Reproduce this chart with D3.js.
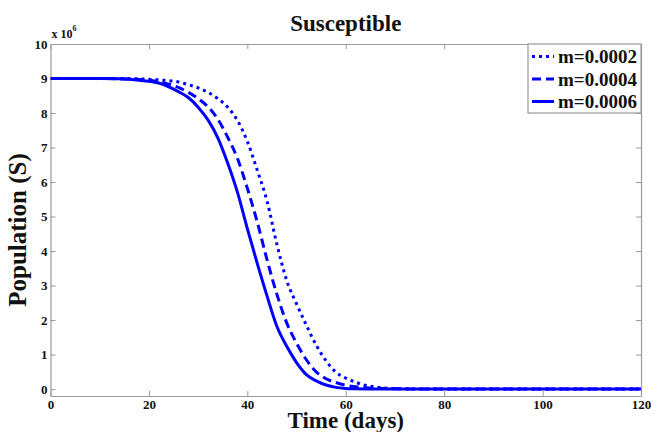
<!DOCTYPE html>
<html>
<head>
<meta charset="utf-8">
<script src="https://cdn.jsdelivr.net/npm/d3@7"></script>
<style>
  html, body { margin: 0; padding: 0; background: #fff; }
  svg { display: block; font-family: "Liberation Serif", "Times New Roman", serif; }
</style>
</head>
<body>
<svg id="chart" width="651" height="432"></svg>
<script>
// Susceptible population over time (units of 10^6) for three values of m
const days = [0, 10, 14, 18, 22, 26, 28, 30, 32, 34, 36, 38, 40, 42, 44, 46, 48, 50, 52, 54, 56, 58, 60, 62, 64, 66, 68, 70, 75, 80, 90, 100, 110, 120];

const sM0002 = [9.00, 9.00, 9.00, 8.99, 8.96, 8.90, 8.82, 8.73, 8.60, 8.42, 8.17, 7.78, 7.18, 6.35, 5.45, 4.20, 3.15, 2.47, 1.85, 1.27, 0.82, 0.49, 0.32, 0.20, 0.11, 0.06, 0.03, 0.015, 0.003, 0, 0, 0, 0, 0];
const sM0004 = [9.00, 9.00, 8.99, 8.97, 8.91, 8.74, 8.60, 8.42, 8.18, 7.82, 7.30, 6.68, 5.82, 4.85, 3.75, 2.75, 1.92, 1.33, 0.85, 0.50, 0.30, 0.19, 0.11, 0.07, 0.04, 0.025, 0.015, 0.01, 0.002, 0, 0, 0, 0, 0];
const sM0006 = [9.00, 9.00, 8.99, 8.95, 8.87, 8.62, 8.45, 8.17, 7.80, 7.28, 6.55, 5.70, 4.65, 3.65, 2.70, 1.82, 1.24, 0.77, 0.42, 0.24, 0.12, 0.05, 0.02, 0.01, 0.005, 0.003, 0.001, 0, 0, 0, 0, 0, 0, 0];

const seriesNames = ["m=0.0002", "m=0.0004", "m=0.0006"];
const seriesValues = [sM0002, sM0004, sM0006];
const seriesDash = ["3,4", "9,5", null];

const xTicks = [0, 20, 40, 60, 80, 100, 120];
const yTicks = [0, 1, 2, 3, 4, 5, 6, 7, 8, 9, 10];

const svg = d3.select("#chart");
const box = { left: 50.5, right: 641, top: 44, bottom: 396 };
const blue = "#0000ff";
const axisGray = "#9a9a9a";
const serif = "'Liberation Serif', 'Times New Roman', serif";

const x = d3.scaleLinear().domain([0, 120]).range([box.left, box.right]);
const y = d3.scaleLinear().domain([-0.2, 10]).range([box.bottom, box.top]);

// plot frame
svg.append("rect")
  .attr("x", box.left).attr("y", box.top)
  .attr("width", box.right - box.left).attr("height", box.bottom - box.top)
  .attr("fill", "#fff");

svg.append("defs").append("clipPath").attr("id", "plot-clip")
  .append("rect")
  .attr("x", box.left).attr("y", box.top)
  .attr("width", box.right - box.left).attr("height", box.bottom - box.top);

// axes with inward ticks on all four sides
function styleAxis(g) {
  g.attr("font-family", serif);
  g.select(".domain").attr("stroke", axisGray).attr("stroke-width", 1.2);
  g.selectAll(".tick line").attr("stroke", axisGray).attr("stroke-width", 1);
  g.selectAll(".tick text")
    .attr("fill", "#111")
    .style("font-family", serif)
    .style("font-weight", "bold")
    .style("font-size", "13px");
}

const bottomAxis = svg.append("g")
  .attr("transform", `translate(0,${box.bottom})`)
  .call(d3.axisBottom(x).tickValues(xTicks).tickSizeInner(-5).tickSizeOuter(0).tickPadding(4).tickFormat(d3.format("d")));
styleAxis(bottomAxis);

const topAxis = svg.append("g")
  .attr("transform", `translate(0,${box.top})`)
  .call(d3.axisTop(x).tickValues(xTicks).tickSizeInner(-5).tickSizeOuter(0).tickFormat(""));
styleAxis(topAxis);

const leftAxis = svg.append("g")
  .attr("transform", `translate(${box.left},0)`)
  .call(d3.axisLeft(y).tickValues(yTicks).tickSizeInner(-5).tickSizeOuter(0).tickPadding(3).tickFormat(d3.format("d")));
styleAxis(leftAxis);

const rightAxis = svg.append("g")
  .attr("transform", `translate(${box.right},0)`)
  .call(d3.axisRight(y).tickValues(yTicks).tickSizeInner(-5).tickSizeOuter(0).tickFormat(""));
styleAxis(rightAxis);

// exponent marker for the y axis
const expo = svg.append("text")
  .attr("x", box.left + 1).attr("y", 38)
  .attr("font-size", "12px").attr("font-weight", "bold").attr("fill", "#111");
expo.append("tspan").text("x 10");
expo.append("tspan").attr("dy", -7).attr("font-size", "8px").text("6");

// curves
const line = d3.line()
  .x((d, i) => x(days[i]))
  .y(d => y(d))
  .curve(d3.curveMonotoneX);

const plot = svg.append("g").attr("clip-path", "url(#plot-clip)");
seriesValues.forEach((vals, k) => {
  plot.append("path")
    .datum(vals)
    .attr("d", line)
    .attr("fill", "none")
    .attr("stroke", blue)
    .attr("stroke-width", 3)
    .attr("stroke-dasharray", seriesDash[k]);
});

// title and axis labels
svg.append("text")
  .attr("x", (box.left + box.right) / 2).attr("y", 31)
  .attr("text-anchor", "middle")
  .attr("font-size", "23px").attr("font-weight", "bold").attr("fill", "#111")
  .text("Susceptible");

svg.append("text")
  .attr("x", (box.left + box.right) / 2).attr("y", 428)
  .attr("text-anchor", "middle")
  .attr("font-size", "23px").attr("font-weight", "bold").attr("fill", "#111")
  .text("Time (days)");

svg.append("text")
  .attr("transform", `translate(26,${(box.top + box.bottom) / 2 + 10}) rotate(-90)`)
  .attr("text-anchor", "middle")
  .attr("font-size", "25px").attr("font-weight", "bold").attr("fill", "#111")
  .text("Population (S)");

// legend
const legend = { left: 528, top: box.top, width: box.right - 528, height: 69 };
const lg = svg.append("g");
lg.append("rect")
  .attr("x", legend.left).attr("y", legend.top)
  .attr("width", legend.width).attr("height", legend.height)
  .attr("fill", "#fff").attr("stroke", axisGray).attr("stroke-width", 1.2);

const rowY = d3.scalePoint().domain(seriesNames).range([legend.top + 12.5, legend.top + 57.5]);
seriesNames.forEach((name, k) => {
  const yy = rowY(name);
  lg.append("line")
    .attr("x1", legend.left + 4).attr("x2", legend.left + 26)
    .attr("y1", yy).attr("y2", yy)
    .attr("stroke", blue).attr("stroke-width", 3)
    .attr("stroke-dasharray", seriesDash[k]);
  lg.append("text")
    .attr("x", legend.left + 30).attr("y", yy)
    .attr("dy", "0.35em")
    .attr("font-size", "19px").attr("font-weight", "bold").attr("fill", "#111")
    .text(name);
});
</script>
</body>
</html>
